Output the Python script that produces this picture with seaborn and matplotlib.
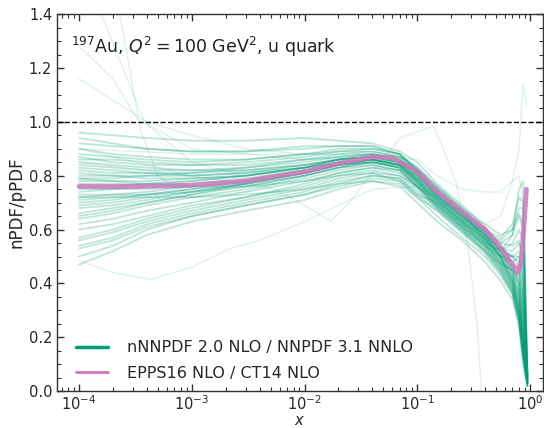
import numpy as np
import pandas as pd
import matplotlib
matplotlib.use("Agg")
import matplotlib.pyplot as plt
from matplotlib.lines import Line2D
from matplotlib.ticker import LogLocator, MultipleLocator, NullFormatter
import seaborn as sns

# ---------------- data ----------------
x_knots = [1e-4, 2e-4, 4e-4, 1e-3, 3e-3, 1e-2, 2e-2, 4e-2, 0.07, 0.1,
           0.15, 0.25, 0.4, 0.55, 0.7, 0.8, 0.87, 0.95]

nnpdf_replicas = [
    [0.96, 0.95, 0.94, 0.93, 0.93, 0.94, 0.93, 0.92, 0.89, 0.85, 0.77, 0.69, 0.61, 0.54, 0.47, 0.40, 0.28, 0.04],
    [0.92, 0.91, 0.90, 0.89, 0.89, 0.90, 0.91, 0.91, 0.88, 0.83, 0.76, 0.68, 0.60, 0.52, 0.44, 0.36, 0.22, 0.03],
    [0.88, 0.87, 0.86, 0.85, 0.86, 0.88, 0.90, 0.90, 0.88, 0.82, 0.75, 0.67, 0.59, 0.52, 0.45, 0.38, 0.25, 0.04],
    [0.86, 0.86, 0.85, 0.84, 0.84, 0.86, 0.87, 0.88, 0.86, 0.81, 0.74, 0.66, 0.58, 0.50, 0.42, 0.32, 0.18, 0.03],
    [0.84, 0.83, 0.82, 0.82, 0.83, 0.85, 0.87, 0.88, 0.86, 0.80, 0.73, 0.65, 0.58, 0.52, 0.50, 0.52, 0.45, 0.05],
    [0.82, 0.81, 0.81, 0.81, 0.82, 0.84, 0.86, 0.87, 0.85, 0.80, 0.73, 0.65, 0.57, 0.49, 0.41, 0.30, 0.15, 0.03],
    [0.80, 0.80, 0.80, 0.80, 0.81, 0.84, 0.86, 0.87, 0.85, 0.79, 0.72, 0.64, 0.57, 0.50, 0.43, 0.35, 0.20, 0.03],
    [0.78, 0.78, 0.78, 0.79, 0.80, 0.83, 0.86, 0.87, 0.85, 0.79, 0.72, 0.64, 0.56, 0.48, 0.40, 0.28, 0.14, 0.02],
    [0.76, 0.76, 0.77, 0.78, 0.80, 0.83, 0.85, 0.86, 0.84, 0.78, 0.71, 0.63, 0.56, 0.50, 0.48, 0.50, 0.40, 0.05],
    [0.74, 0.75, 0.76, 0.77, 0.79, 0.82, 0.85, 0.86, 0.84, 0.78, 0.71, 0.63, 0.55, 0.47, 0.39, 0.30, 0.17, 0.03],
    [0.72, 0.73, 0.74, 0.76, 0.78, 0.82, 0.84, 0.86, 0.84, 0.78, 0.70, 0.62, 0.55, 0.48, 0.41, 0.33, 0.20, 0.03],
    [0.70, 0.71, 0.73, 0.75, 0.78, 0.81, 0.84, 0.85, 0.83, 0.77, 0.70, 0.62, 0.54, 0.46, 0.38, 0.27, 0.13, 0.02],
    [0.68, 0.69, 0.71, 0.74, 0.77, 0.81, 0.84, 0.85, 0.83, 0.77, 0.70, 0.62, 0.55, 0.52, 0.55, 0.60, 0.55, 0.05],
    [0.66, 0.68, 0.70, 0.73, 0.76, 0.80, 0.83, 0.85, 0.83, 0.77, 0.69, 0.61, 0.54, 0.47, 0.40, 0.31, 0.18, 0.03],
    [0.64, 0.66, 0.69, 0.72, 0.75, 0.79, 0.82, 0.84, 0.82, 0.76, 0.69, 0.61, 0.53, 0.45, 0.37, 0.26, 0.12, 0.02],
    [0.62, 0.64, 0.67, 0.70, 0.74, 0.78, 0.81, 0.83, 0.82, 0.76, 0.69, 0.61, 0.54, 0.50, 0.50, 0.46, 0.32, 0.04],
    [0.60, 0.62, 0.65, 0.69, 0.72, 0.76, 0.80, 0.82, 0.80, 0.75, 0.68, 0.60, 0.52, 0.44, 0.36, 0.25, 0.12, 0.02],
    [0.57, 0.60, 0.64, 0.68, 0.72, 0.77, 0.81, 0.83, 0.81, 0.76, 0.68, 0.60, 0.53, 0.46, 0.39, 0.29, 0.16, 0.03],
    [0.54, 0.57, 0.62, 0.66, 0.70, 0.74, 0.78, 0.80, 0.79, 0.74, 0.68, 0.60, 0.52, 0.45, 0.38, 0.28, 0.15, 0.03],
    [0.50, 0.54, 0.60, 0.65, 0.69, 0.73, 0.77, 0.80, 0.79, 0.73, 0.67, 0.59, 0.51, 0.44, 0.37, 0.27, 0.14, 0.02],
    [0.47, 0.52, 0.58, 0.63, 0.67, 0.71, 0.75, 0.78, 0.77, 0.72, 0.67, 0.59, 0.52, 0.47, 0.45, 0.42, 0.30, 0.04],
    [0.90, 0.88, 0.87, 0.86, 0.86, 0.88, 0.89, 0.89, 0.87, 0.81, 0.73, 0.65, 0.58, 0.51, 0.44, 0.36, 0.22, 0.03],
    [0.85, 0.84, 0.83, 0.82, 0.82, 0.84, 0.86, 0.88, 0.87, 0.83, 0.76, 0.68, 0.62, 0.58, 0.60, 0.66, 0.62, 0.06],
    [0.79, 0.79, 0.80, 0.81, 0.83, 0.86, 0.88, 0.89, 0.87, 0.82, 0.75, 0.67, 0.60, 0.55, 0.54, 0.56, 0.48, 0.05],
    [0.75, 0.75, 0.75, 0.76, 0.78, 0.81, 0.84, 0.86, 0.85, 0.80, 0.73, 0.66, 0.60, 0.57, 0.62, 0.72, 0.70, 0.06],
    [0.73, 0.73, 0.73, 0.74, 0.76, 0.80, 0.83, 0.85, 0.84, 0.79, 0.72, 0.64, 0.58, 0.55, 0.58, 0.65, 0.60, 0.05],
    [0.71, 0.72, 0.73, 0.75, 0.77, 0.80, 0.83, 0.84, 0.82, 0.76, 0.69, 0.61, 0.54, 0.48, 0.45, 0.40, 0.25, 0.03],
    [0.77, 0.77, 0.77, 0.78, 0.80, 0.83, 0.86, 0.87, 0.85, 0.80, 0.73, 0.65, 0.58, 0.53, 0.52, 0.55, 0.50, 0.05],
    [0.83, 0.82, 0.81, 0.80, 0.81, 0.83, 0.85, 0.86, 0.84, 0.78, 0.71, 0.63, 0.56, 0.52, 0.58, 0.75, 0.78, 0.06],
    [0.69, 0.70, 0.72, 0.74, 0.77, 0.81, 0.84, 0.86, 0.84, 0.79, 0.72, 0.65, 0.59, 0.56, 0.60, 0.68, 0.68, 0.06],
    [0.81, 0.80, 0.79, 0.79, 0.80, 0.83, 0.86, 0.87, 0.86, 0.81, 0.74, 0.66, 0.59, 0.52, 0.46, 0.40, 0.30, 0.04],
    [0.65, 0.67, 0.70, 0.73, 0.77, 0.81, 0.84, 0.85, 0.83, 0.78, 0.71, 0.63, 0.57, 0.53, 0.50, 0.48, 0.38, 0.04],
    [0.56, 0.59, 0.63, 0.67, 0.71, 0.75, 0.79, 0.81, 0.80, 0.76, 0.71, 0.63, 0.56, 0.50, 0.46, 0.43, 0.35, 0.04],
    [0.94, 0.92, 0.90, 0.89, 0.89, 0.91, 0.91, 0.91, 0.88, 0.82, 0.72, 0.64, 0.57, 0.51, 0.48, 0.45, 0.35, 0.04],
    [0.53, 0.56, 0.61, 0.65, 0.69, 0.73, 0.76, 0.79, 0.78, 0.73, 0.70, 0.62, 0.55, 0.49, 0.42, 0.33, 0.19, 0.03],
    [0.87, 0.85, 0.84, 0.84, 0.85, 0.87, 0.89, 0.90, 0.88, 0.82, 0.73, 0.66, 0.59, 0.53, 0.50, 0.50, 0.42, 0.05],
    [0.72, 0.72, 0.72, 0.72, 0.73, 0.75, 0.77, 0.78, 0.76, 0.70, 0.63, 0.56, 0.48, 0.41, 0.34, 0.24, 0.10, 0.02],
    [0.79, 0.78, 0.77, 0.76, 0.76, 0.78, 0.80, 0.81, 0.78, 0.72, 0.65, 0.57, 0.50, 0.43, 0.36, 0.26, 0.12, 0.02],
]

# faint outlier replicas, each with its own x samples
outlier_x = [
    [2.0e-4, 2.3e-4, 3.5e-4, 5e-4, 1e-3, 3e-3, 1e-2, 4e-2, 0.1, 0.25, 0.55, 0.8, 0.95],
    [1e-4, 2e-4, 3.3e-4, 1e-3, 1e-2, 4e-2, 0.1, 0.25, 0.55, 0.8, 0.95],
    [1e-4, 2e-4, 4e-4, 1e-3, 3e-3, 1e-2, 4e-2, 0.1, 0.25, 0.55, 0.8, 0.95],
    [1.4e-4, 3.8e-4, 1e-3, 3e-3, 1e-2, 4e-2, 0.1, 0.25, 0.55, 0.8, 0.95],
    [1e-4, 2e-4, 4.3e-4, 1e-3, 2.2e-3, 4e-3, 1e-2, 2e-2, 4e-2, 0.1, 0.15, 0.25, 0.4, 0.55, 0.7, 0.8, 0.87, 0.95],
    [1e-4, 1e-3, 5.2e-3, 1e-2, 1.7e-2, 2.5e-2, 3.8e-2, 0.07, 0.14, 0.22, 0.28, 0.34, 0.37],
    [1e-4, 1e-3, 1e-2, 4e-2, 0.1, 0.25, 0.4, 0.55, 0.7, 0.8, 0.87, 0.93],
    [1e-4, 1e-3, 1e-2, 4e-2, 0.1, 0.15, 0.25, 0.4, 0.55, 0.7, 0.8, 0.87, 0.95],
]
outlier_y = [
    [1.65, 1.40, 0.97, 0.80, 0.72, 0.74, 0.80, 0.86, 0.82, 0.66, 0.50, 0.35, 0.03],
    [1.28, 1.16, 1.01, 0.90, 0.86, 0.87, 0.82, 0.66, 0.50, 0.32, 0.03],
    [1.16, 1.08, 1.00, 0.95, 0.90, 0.88, 0.88, 0.83, 0.67, 0.52, 0.38, 0.04],
    [1.45, 1.00, 0.85, 0.80, 0.82, 0.86, 0.82, 0.66, 0.50, 0.36, 0.03],
    [0.485, 0.44, 0.415, 0.46, 0.53, 0.56, 0.63, 0.69, 0.75, 0.76, 0.72, 0.66, 0.58, 0.50, 0.42, 0.30, 0.15, 0.03],
    [0.90, 0.80, 0.754, 0.69, 0.632, 0.70, 0.80, 0.94, 0.985, 0.78, 0.545, 0.25, 0.0],
    [0.85, 0.80, 0.83, 0.86, 0.80, 0.66, 0.62, 0.65, 0.78, 0.90, 1.14, 1.06],
    [0.90, 0.88, 0.88, 0.88, 0.86, 0.80, 0.75, 0.74, 0.74, 0.78, 0.80, 0.70, 0.05],
]

epps_x = [1e-4, 3e-4, 1e-3, 3e-3, 1e-2, 2e-2, 4e-2, 0.06, 0.1, 0.15, 0.27, 0.4,
          0.55, 0.7, 0.78, 0.84, 0.88, 0.93]
epps_y = [0.76, 0.76, 0.765, 0.78, 0.815, 0.845, 0.87, 0.866, 0.815, 0.74, 0.655,
          0.60, 0.533, 0.47, 0.44, 0.485, 0.60, 0.75]

legend_labels = ["nNNPDF 2.0 NLO / NNPDF 3.1 NNLO", "EPPS16 NLO / CT14 NLO"]
title_text = r"$^{197}$Au, $Q^2=100$ GeV$^2$, u quark"

# ---------------- long-form tables ----------------
rep_df = pd.DataFrame(
    [(i, xv, yv) for i, row in enumerate(nnpdf_replicas) for xv, yv in zip(x_knots, row)],
    columns=["rep", "x", "ratio"])
out_df = pd.DataFrame(
    [(i, xv, yv) for i, (xs, ys) in enumerate(zip(outlier_x, outlier_y)) for xv, yv in zip(xs, ys)],
    columns=["rep", "x", "ratio"])
epps_df = pd.DataFrame({"x": epps_x, "ratio": epps_y})

# ---------------- plot ----------------
sns.set_theme(style="ticks")
plt.rcParams["font.family"] = ["DejaVu Sans"]
plt.rcParams["mathtext.fontset"] = "dejavusans"

green = "#029e73"
pink = "#cc78bc"

fig = plt.figure(figsize=(5.44, 4.28), dpi=100)
ax = fig.add_axes([0.105, 0.086, 0.893, 0.881])
ax.set_xscale("log")

sns.lineplot(data=out_df, x="x", y="ratio", units="rep", estimator=None, sort=False,
             color=green, alpha=0.13, lw=1.0, ax=ax, legend=False)
sns.lineplot(data=rep_df, x="x", y="ratio", units="rep", estimator=None, sort=False,
             color=green, alpha=0.26, lw=1.3, ax=ax, legend=False)
sns.lineplot(data=epps_df, x="x", y="ratio", estimator=None, sort=False,
             color=pink, alpha=0.85, lw=3.5, ax=ax, legend=False)

ax.axhline(1.0, color="black", ls="--", lw=1.0)

ax.set_xlim(10 ** -4.195, 10 ** 0.115)
ax.set_ylim(0.0, 1.4)
ax.yaxis.set_major_locator(MultipleLocator(0.2))
ax.yaxis.set_minor_locator(MultipleLocator(0.05))
ax.xaxis.set_major_locator(LogLocator(base=10, numticks=10))
ax.xaxis.set_minor_locator(LogLocator(base=10, subs=np.arange(2, 10), numticks=20))
ax.xaxis.set_minor_formatter(NullFormatter())
ax.tick_params(which="both", direction="in", top=True, right=True, labelsize=10.5,
               color="#333333")
ax.tick_params(axis="x", which="major", pad=2)
ax.tick_params(which="major", length=5, width=1)
ax.tick_params(which="minor", length=3, width=0.8)
for s in ax.spines.values():
    s.set_color("#333333")
    s.set_linewidth(1.0)

ax.set_xlabel(r"$x$", fontsize=10.5, labelpad=0)
ax.set_ylabel("nPDF/pPDF", fontsize=12, labelpad=2)

ax.text(0.028, 0.945, title_text, transform=ax.transAxes, fontsize=12.5,
        ha="left", va="top", color="#222222")

handles = [Line2D([], [], color=green, lw=2.5),
           Line2D([], [], color=pink, lw=2.0)]
ax.legend(handles, legend_labels, loc="lower left", frameon=False, fontsize=11.5,
          handlelength=2.0, handletextpad=1.2, bbox_to_anchor=(0.01, -0.01),
          labelspacing=0.65)

fig.savefig("out.png", dpi=100)
